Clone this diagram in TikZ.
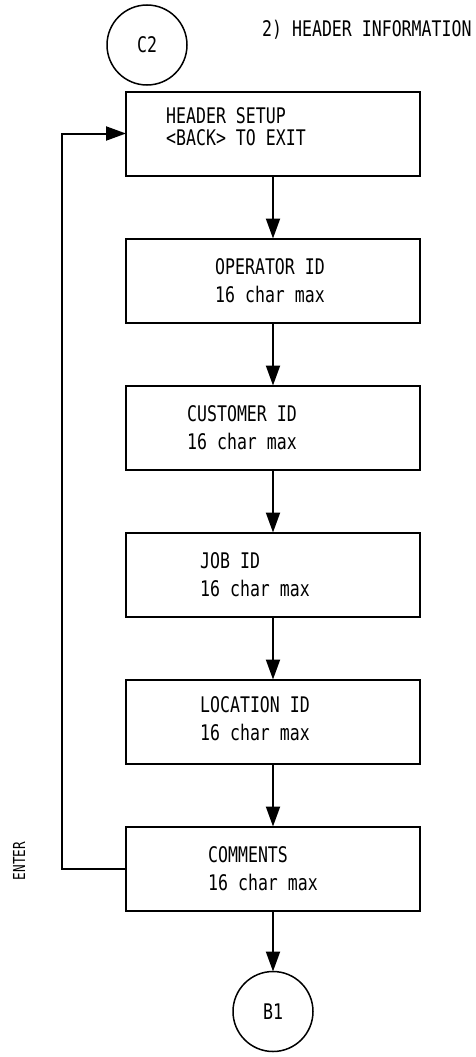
\documentclass[tikz,border=0pt]{standalone}
\usepackage{fontspec}
\newfontfamily\plotfont[FakeStretch=0.77]{DejaVu Sans Mono}
\usetikzlibrary{arrows.meta,positioning,calc}
\tikzset{
	menu flow/.style={
		x=1pt, y=-1pt,
		node distance=63pt,
		ar/.style={draw, line width=2pt, -{Triangle[length=20pt,width=14pt]}},
		execute at begin picture={\useasboundingbox (0,0) rectangle (475,1057);}
		},
	scr/.style={draw, line width=2pt, minimum width=294pt, minimum height=84pt,
		inner sep=0pt, outer sep=0pt},
	conn/.style={draw, circle, line width=1.5pt, minimum size=80pt, inner sep=0pt,
		outer sep=0pt, font=\plotfont\fontsize{21.5}{24}\selectfont},
	txt/.style={anchor=west, align=left, inner sep=0pt,
		font=\plotfont\fontsize{21.5}{28.5}\selectfont}
}

\begin{document}
\begin{tikzpicture}[menu flow]
	\node[conn] (c2) at (147,45) {C2};
	\node[txt] (title) at (262,30) {2) HEADER INFORMATION};
	% screens
	\node[scr] (header) at (273,133.5) {};
	\node[scr, below=of header] (operator) {};
	\node[scr, below=of operator] (customer) {};
	\node[scr, below=of customer] (job) {};
	\node[scr, below=of job] (location) {};
	\node[scr, below=of location] (comments) {};
	\node[conn, below=61pt of comments] (b1) {B1};
	% screen texts
	\node[txt, font=\plotfont\fontsize{21.5}{22}\selectfont, right=40pt of header.west, yshift=7pt]
		{HEADER SETUP\\<BACK> TO EXIT};
	\node[txt, right=89pt of operator.west] {OPERATOR ID\\16 char max};
	\node[txt, right=61pt of customer.west] {CUSTOMER ID\\16 char max};
	\node[txt, right=74pt of job.west] {JOB ID\\16 char max};
	\node[txt, right=74pt of location.west, yshift=3pt] {LOCATION ID\\16 char max};
	\node[txt, right=82pt of comments.west] {COMMENTS\\16 char max};
	\node[txt, anchor=center, rotate=90, font=\plotfont\fontsize{16.5}{18}\selectfont] (enter) at (19,861) {ENTER};
	% flow
	\draw[ar] (header) -- (operator);
	\draw[ar] (operator) -- (customer);
	\draw[ar] (customer) -- (job);
	\draw[ar] (job) -- (location);
	\draw[ar] (location) -- (comments);
	\draw[ar] (comments) -- (b1);
	\draw[ar] (comments.west) -- ++(-64,0) |- (header.west);
\end{tikzpicture}
\end{document}
